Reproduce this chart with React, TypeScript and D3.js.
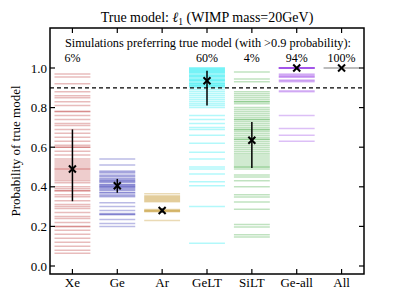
import React from "react";
import * as d3 from "d3";

const categories = ["Xe", "Ge", "Ar", "GeLT", "SiLT", "Ge-all", "All"];
const colors = ["#b22222", "#1c1ca8", "#b8860b", "#00e8f0", "#2e9e2e", "#8a2be2", "#808080"];
const percentLabels = ["6%", "", "", "60%", "4%", "94%", "100%"];

const xeValues = [0.97, 0.955, 0.92, 0.88, 0.86, 0.85, 0.83, 0.81, 0.78, 0.78, 0.76, 0.74, 0.72, 0.71, 0.69, 0.67, 0.65, 0.63, 0.61, 0.6, 0.6, 0.58, 0.56, 0.54, 0.53, 0.52, 0.51, 0.5, 0.49, 0.49, 0.48, 0.47, 0.46, 0.45, 0.44, 0.43, 0.42, 0.4, 0.39, 0.38, 0.38, 0.36, 0.35, 0.33, 0.31, 0.3, 0.29, 0.27, 0.25, 0.24, 0.22, 0.2, 0.2, 0.18, 0.16, 0.14, 0.12, 0.1, 0.08, 0.065];
const geValues = [0.54, 0.51, 0.48, 0.475, 0.47, 0.46, 0.455, 0.45, 0.44, 0.44, 0.43, 0.43, 0.425, 0.42, 0.41, 0.41, 0.405, 0.4, 0.4, 0.395, 0.39, 0.385, 0.38, 0.37, 0.37, 0.36, 0.355, 0.35, 0.32, 0.3, 0.28, 0.265, 0.26, 0.26, 0.235, 0.215, 0.2];
const arValues = [0.365, 0.355, 0.35, 0.345, 0.34, 0.335, 0.33, 0.325, 0.285, 0.28, 0.28, 0.275, 0.275, 0.23];
const geltValues = [1.0, 1.0, 0.995, 0.99, 0.99, 0.985, 0.98, 0.98, 0.975, 0.97, 0.965, 0.96, 0.96, 0.955, 0.95, 0.945, 0.94, 0.94, 0.935, 0.93, 0.925, 0.92, 0.92, 0.915, 0.91, 0.91, 0.905, 0.9, 0.89, 0.88, 0.87, 0.86, 0.85, 0.84, 0.83, 0.82, 0.81, 0.8, 0.76, 0.74, 0.72, 0.7, 0.69, 0.66, 0.62, 0.575, 0.54, 0.5, 0.49, 0.465, 0.425, 0.405, 0.3, 0.115];
const siltValues = [0.98, 0.945, 0.93, 0.88, 0.87, 0.86, 0.85, 0.84, 0.83, 0.83, 0.82, 0.8, 0.79, 0.78, 0.77, 0.76, 0.75, 0.74, 0.74, 0.73, 0.72, 0.71, 0.7, 0.69, 0.69, 0.68, 0.67, 0.66, 0.65, 0.64, 0.64, 0.63, 0.62, 0.61, 0.6, 0.59, 0.58, 0.57, 0.56, 0.55, 0.54, 0.53, 0.52, 0.51, 0.5, 0.5, 0.49, 0.46, 0.45, 0.43, 0.4, 0.36, 0.348, 0.323, 0.286, 0.21, 0.197, 0.158, 0.146];
const geAllValues = [1.0, 1.0, 1.0, 1.0, 1.0, 1.0, 0.97, 0.965, 0.96, 0.955, 0.955, 0.94, 0.935, 0.93, 0.885, 0.88, 0.76, 0.695, 0.66, 0.63];
const allValues = [1.0, 1.0, 1.0];
const seriesValues = [xeValues, geValues, arValues, geltValues, siltValues, geAllValues, allValues];

const medians = [0.49, 0.405, 0.28, 0.936, 0.635, 1.0, 1.0];
const lows = [0.327, 0.37, 0.27, 0.81, 0.495, 0.995, 1.0];
const highs = [0.69, 0.44, 0.29, 0.986, 0.727, 1.0, 1.0];

const yTicks = [0, 0.2, 0.4, 0.6, 0.8, 1.0];
const threshold = 0.9;

export default function App() {
  const left = 50, right = 364, top = 28, bottom = 274;
  const x = d3.scaleBand<string>().domain(categories).range([left, right]).padding(0);
  const y = d3.scaleLinear().domain([0, 1]).range([266, 68]);
  const cx = (c: string) => (x(c) as number) + x.bandwidth() / 2;
  const hw = x.bandwidth() * 0.4;
  const font = "'Liberation Serif', 'DejaVu Serif', serif";
  const ms = 3.5;

  return (
    <svg width={405} height={304} style={{ position: "absolute", left: 0, top: 0, background: "#fff" }} fontFamily={font}>
      {categories.map((c, i) => (
        <g key={c}>
          {seriesValues[i].map((v, j) => (
            <line key={j} x1={cx(c) - hw} x2={cx(c) + hw} y1={y(v)} y2={y(v)} stroke={colors[i]} strokeOpacity={0.3} strokeWidth={1.5} />
          ))}
        </g>
      ))}
      <line x1={left} x2={right} y1={y(threshold)} y2={y(threshold)} stroke="#000" strokeWidth={1.3} strokeDasharray="4,3" />
      {categories.map((c, i) => (
        <g key={"m" + c} stroke="#000">
          {highs[i] - lows[i] > 0.001 && (
            <line x1={cx(c)} x2={cx(c)} y1={y(lows[i])} y2={y(highs[i])} strokeWidth={1.5} />
          )}
          <line x1={cx(c) - ms} x2={cx(c) + ms} y1={y(medians[i]) - ms} y2={y(medians[i]) + ms} strokeWidth={2} />
          <line x1={cx(c) - ms} x2={cx(c) + ms} y1={y(medians[i]) + ms} y2={y(medians[i]) - ms} strokeWidth={2} />
        </g>
      ))}
      <rect x={left} y={top} width={right - left} height={bottom - top} fill="none" stroke="#000" strokeWidth={1.5} />
      {yTicks.map((t) => (
        <g key={"y" + t}>
          <line x1={left} x2={left + 5} y1={y(t)} y2={y(t)} stroke="#000" strokeWidth={1.2} />
          <line x1={right - 5} x2={right} y1={y(t)} y2={y(t)} stroke="#000" strokeWidth={1.2} />
          <text x={left - 3} y={y(t)} dy="0.35em" textAnchor="end" fontSize={13}>{d3.format(".1f")(t)}</text>
        </g>
      ))}
      {categories.map((c) => (
        <g key={"x" + c}>
          <line x1={cx(c)} x2={cx(c)} y1={bottom} y2={bottom - 5} stroke="#000" strokeWidth={1.2} />
          <line x1={cx(c)} x2={cx(c)} y1={top} y2={top + 5} stroke="#000" strokeWidth={1.2} />
          <text x={cx(c)} y={bottom + 13} textAnchor="middle" fontSize={13}>{c}</text>
        </g>
      ))}
      {categories.map((c, i) => (
        <text key={"p" + c} x={cx(c)} y={61.5} textAnchor="middle" fontSize={12}>{percentLabels[i]}</text>
      ))}
      <text x={(left + right) / 2 + 1} y={46.5} textAnchor="middle" fontSize={12.3}>Simulations preferring true model (with &gt;0.9 probability):</text>
      <text x={(left + right) / 2} y={22} textAnchor="middle" fontSize={14}>
        True model: <tspan fontStyle="italic">ℓ</tspan><tspan fontSize={9.5} dy={3}>1</tspan><tspan dy={-3}> (WIMP mass=20GeV)</tspan>
      </text>
      <text transform={`translate(20,${(top + bottom) / 2}) rotate(-90)`} textAnchor="middle" fontSize={13}>Probability of true model</text>
    </svg>
  );
}
